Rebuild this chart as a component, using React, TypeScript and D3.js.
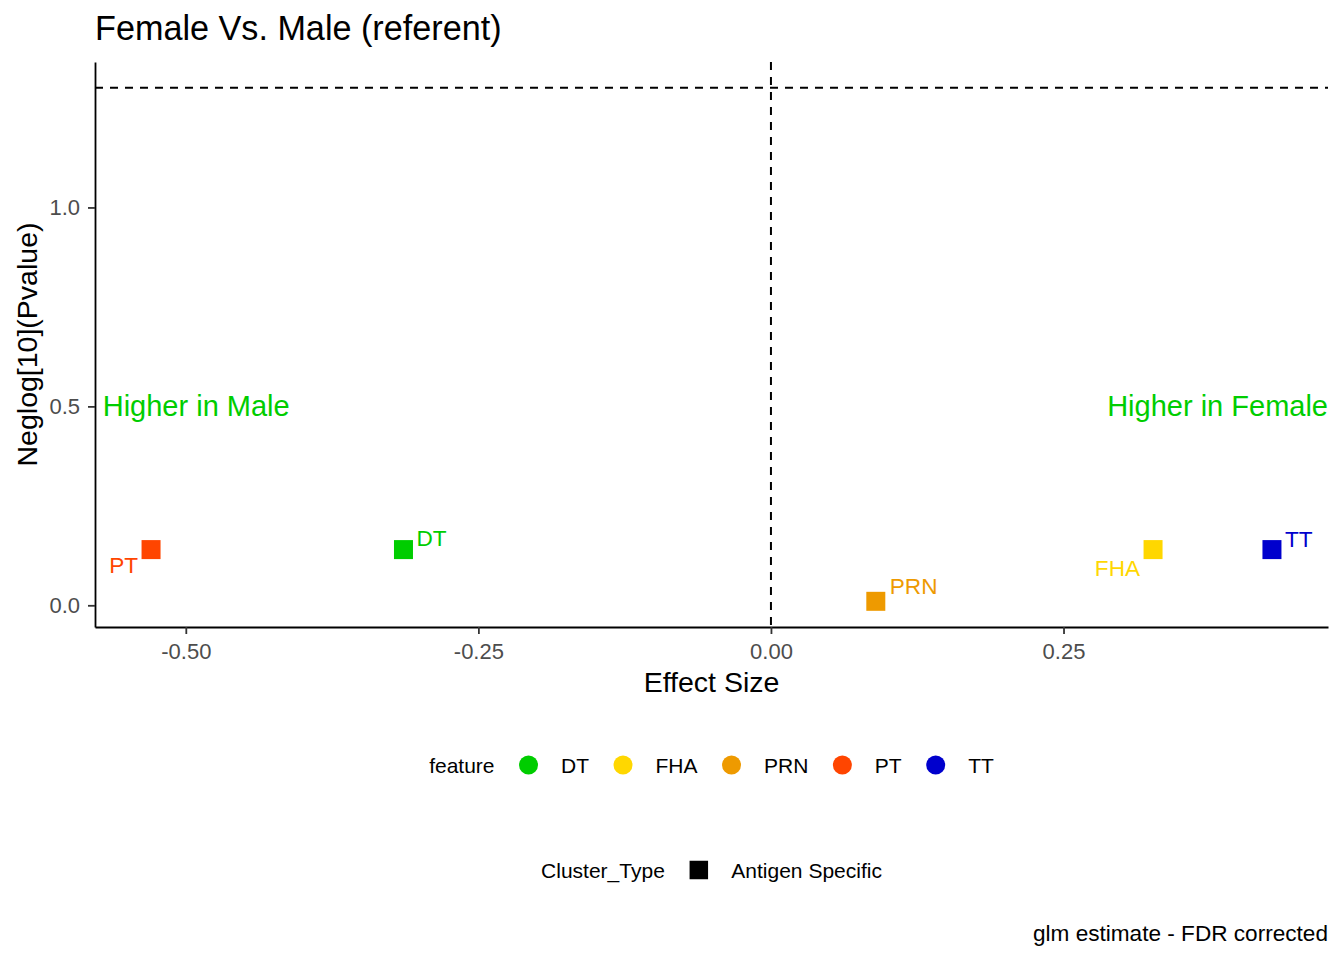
import * as d3 from "d3";
import React, { useEffect, useRef } from "react";

// data
const features = ["DT", "FHA", "PRN", "PT", "TT"];
const effectSizes = [-0.314, 0.3265, 0.0896, -0.5297, 0.4281];
const negLogP = [0.14, 0.14, 0.01, 0.14, 0.14];
const featureColors = ["#00CD00", "#FFD700", "#EE9A00", "#FF4500", "#0000CD"];
const clusterTypes = ["Antigen Specific"];
const xTicks = [-0.5, -0.25, 0, 0.25];
const yTicks = [0, 0.5, 1.0];
const pCutoff = 0.05;

// ggrepel-like label placement (pixel offsets from the point)
const labelNudge = {
  DT: { dx: 13, dy: -4, anchor: "start" },
  FHA: { dx: -13, dy: 26, anchor: "end" },
  PRN: { dx: 14, dy: -7, anchor: "start" },
  PT: { dx: -13, dy: 23, anchor: "end" },
  TT: { dx: 13, dy: -3, anchor: "start" },
};

const FONT = "'Liberation Sans', Arial, Helvetica, sans-serif";

// R prints a plain hyphen for negatives, d3 uses U+2212
const hyphen = (fmt) => (v) => fmt(v).replace("\u2212", "-");

const App = () => {
  const d3Container = useRef(null);

  const createChart = () => {
    const W = 1344;
    const H = 960;
    const panel = { left: 95, right: 1328, top: 62, bottom: 627 };

    d3.select(d3Container.current).selectAll("*").remove();

    const svg = d3
      .select(d3Container.current)
      .append("svg")
      .attr("width", W)
      .attr("height", H)
      .style("display", "block")
      .style("font-family", FONT);

    svg.append("rect").attr("width", W).attr("height", H).attr("fill", "white");

    const rows = features.map((f, i) => ({
      feature: f,
      x: effectSizes[i],
      y: negLogP[i],
      color: featureColors[i],
    }));

    const threshold = -Math.log10(pCutoff);

    // ggplot style 5% expansion
    const expand = (lo, hi) => {
      const pad = (hi - lo) * 0.05;
      return [lo - pad, hi + pad];
    };
    const xExt = d3.extent(effectSizes);
    const yExt = d3.extent([...negLogP, threshold]);

    const x = d3
      .scaleLinear()
      .domain(expand(xExt[0], xExt[1]))
      .range([panel.left, panel.right]);
    const y = d3
      .scaleLinear()
      .domain(expand(yExt[0], yExt[1]))
      .range([panel.bottom, panel.top]);

    // reference lines
    svg
      .append("line")
      .attr("x1", panel.left)
      .attr("x2", panel.right)
      .attr("y1", y(threshold))
      .attr("y2", y(threshold))
      .attr("stroke", "black")
      .attr("stroke-width", 2)
      .attr("stroke-dasharray", "8,7");
    svg
      .append("line")
      .attr("x1", x(0))
      .attr("x2", x(0))
      .attr("y1", panel.top)
      .attr("y2", panel.bottom)
      .attr("stroke", "black")
      .attr("stroke-width", 2)
      .attr("stroke-dasharray", "8,7");

    // x axis
    const xAxis = svg
      .append("g")
      .attr("transform", `translate(0, ${panel.bottom})`)
      .call(
        d3
          .axisBottom(x)
          .tickValues(xTicks)
          .tickSize(7)
          .tickSizeOuter(0)
          .tickPadding(9)
          .tickFormat(hyphen(d3.format(".2f")))
      );
    xAxis.select(".domain").attr("stroke", "black").attr("stroke-width", 1.8);
    xAxis.selectAll(".tick line").attr("stroke", "#333333").attr("stroke-width", 1.8);
    xAxis
      .selectAll(".tick text")
      .attr("fill", "#4D4D4D")
      .attr("font-size", 22)
      .attr("font-family", FONT);

    // y axis
    const yAxis = svg
      .append("g")
      .attr("transform", `translate(${panel.left}, 0)`)
      .call(
        d3
          .axisLeft(y)
          .tickValues(yTicks)
          .tickSize(7)
          .tickSizeOuter(0)
          .tickPadding(8)
          .tickFormat(hyphen(d3.format(".1f")))
      );
    yAxis.select(".domain").attr("stroke", "black").attr("stroke-width", 1.8);
    yAxis.selectAll(".tick line").attr("stroke", "#333333").attr("stroke-width", 1.8);
    yAxis
      .selectAll(".tick text")
      .attr("fill", "#4D4D4D")
      .attr("font-size", 22)
      .attr("font-family", FONT);

    // annotations
    svg
      .append("text")
      .attr("x", x(-0.571))
      .attr("y", y(0.5))
      .attr("dy", "0.33em")
      .attr("font-size", 29)
      .attr("fill", "#00CD00")
      .text("Higher in Male");
    svg
      .append("text")
      .attr("x", x(x.domain()[1]))
      .attr("y", y(0.5))
      .attr("dy", "0.33em")
      .attr("text-anchor", "end")
      .attr("font-size", 29)
      .attr("fill", "#00CD00")
      .text("Higher in Female");

    // points (square shape = Antigen Specific)
    const size = 19;
    svg
      .selectAll(".pt")
      .data(rows)
      .enter()
      .append("rect")
      .attr("class", "pt")
      .attr("x", (d) => x(d.x) - size / 2)
      .attr("y", (d) => y(d.y) - size / 2)
      .attr("width", size)
      .attr("height", size)
      .attr("fill", (d) => d.color);

    // point labels
    svg
      .selectAll(".pt-label")
      .data(rows)
      .enter()
      .append("text")
      .attr("class", "pt-label")
      .attr("x", (d) => x(d.x) + labelNudge[d.feature].dx)
      .attr("y", (d) => y(d.y) + labelNudge[d.feature].dy)
      .attr("text-anchor", (d) => labelNudge[d.feature].anchor)
      .attr("font-size", 22.6)
      .attr("fill", (d) => d.color)
      .text((d) => d.feature);

    // titles
    svg
      .append("text")
      .attr("x", panel.left)
      .attr("y", 40)
      .attr("font-size", 34.2)
      .attr("fill", "black")
      .text("Female Vs. Male (referent)");
    svg
      .append("text")
      .attr("x", (panel.left + panel.right) / 2)
      .attr("y", 692)
      .attr("text-anchor", "middle")
      .attr("font-size", 28.5)
      .attr("fill", "black")
      .text("Effect Size");
    svg
      .append("text")
      .attr("transform", `translate(37, ${(panel.top + panel.bottom) / 2}) rotate(-90)`)
      .attr("text-anchor", "middle")
      .attr("font-size", 28.5)
      .attr("fill", "black")
      .text("Neglog[10](Pvalue)");
    svg
      .append("text")
      .attr("x", panel.right)
      .attr("y", 941)
      .attr("text-anchor", "end")
      .attr("font-size", 22.6)
      .attr("fill", "black")
      .text("glm estimate - FDR corrected");

    // legends, laid out like ggplot's horizontal guides
    const legendRow = (title, items, cy, drawKey) => {
      const g = svg.append("g");
      const t = g
        .append("text")
        .attr("x", 0)
        .attr("y", cy + 8)
        .attr("font-size", 21)
        .attr("fill", "black")
        .text(title);
      let cursor = t.node().getComputedTextLength();
      items.forEach((item) => {
        const kx = cursor + 34;
        drawKey(g, item, kx, cy);
        const lab = g
          .append("text")
          .attr("x", kx + 32.5)
          .attr("y", cy + 8)
          .attr("font-size", 21)
          .attr("fill", "black")
          .text(item.label);
        cursor = kx + 32.5 + lab.node().getComputedTextLength();
      });
      const center = (panel.left + panel.right) / 2;
      g.attr("transform", `translate(${center - cursor / 2}, 0)`);
    };

    legendRow(
      "feature",
      features.map((f, i) => ({ label: f, color: featureColors[i] })),
      765,
      (g, item, kx, cy) =>
        g.append("circle").attr("cx", kx).attr("cy", cy).attr("r", 9.5).attr("fill", item.color)
    );

    legendRow(
      "Cluster_Type",
      clusterTypes.map((c) => ({ label: c })),
      870,
      (g, item, kx, cy) =>
        g
          .append("rect")
          .attr("x", kx - 9.25)
          .attr("y", cy - 9.25)
          .attr("width", 18.5)
          .attr("height", 18.5)
          .attr("fill", "black")
    );
  };

  useEffect(() => {
    if (d3Container.current) {
      createChart();
    }
  }, []);

  return (
    <div
      ref={d3Container}
      style={{ position: "absolute", left: 0, top: 0, width: 1344, height: 960 }}
    />
  );
};

export default App;
